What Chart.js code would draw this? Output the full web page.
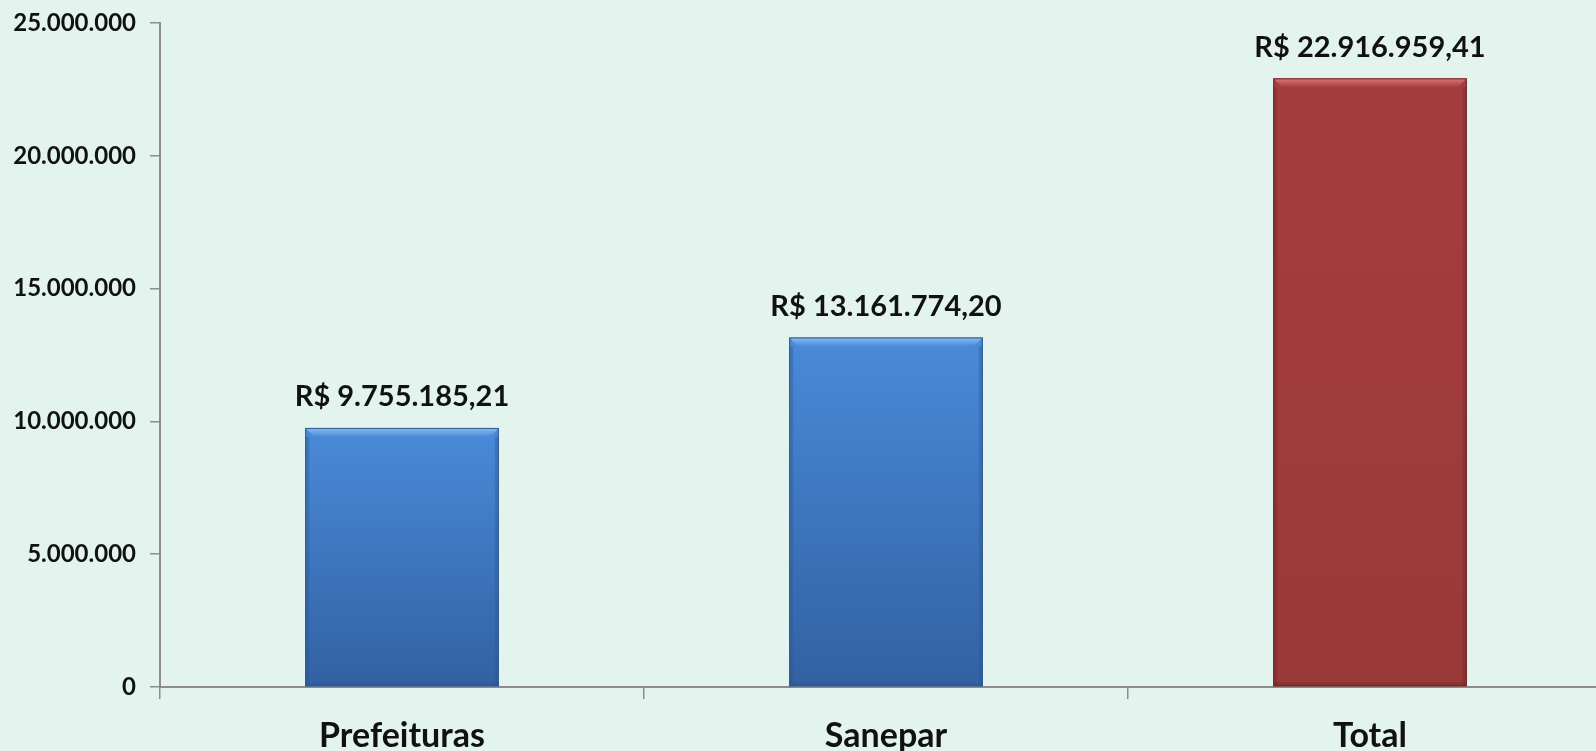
<!DOCTYPE html>
<html>
<head>
<meta charset="utf-8">
<script src="https://cdn.jsdelivr.net/npm/chart.js@4"></script>
<style>
  html, body { margin: 0; padding: 0; overflow: hidden; background: #e3f4ee; }
  #wrap { width: 1620px; height: 751px; }
</style>
</head>
<body>
<div id="wrap"><canvas id="chart" width="1620" height="751"></canvas></div>
<script>
const categories = ["Prefeituras", "Sanepar", "Total"];
const values = [9755185.21, 13161774.2, 22916959.41];
const valueLabels = ["R$ 9.755.185,21", "R$ 13.161.774,20", "R$ 22.916.959,41"];
const yTicks = [0, 5000000, 10000000, 15000000, 20000000, 25000000];

const barStyles = [
  { top: "#4a8ad8", bottom: "#3261a3", light: "#8dbcf0", edge: "#2c5690" },
  { top: "#4a8ad8", bottom: "#3261a3", light: "#8dbcf0", edge: "#2c5690" },
  { top: "#a43e3e", bottom: "#9a3939", light: "#e07575", edge: "#6e2626" },
];

const fontFamily = "Lato, 'Open Sans', sans-serif";

function dotted(v) {
  return String(v).replace(/\B(?=(\d{3})+(?!\d))/g, ".");
}

// vertical gradient for each bar, from its own top down to zero
function barFill(context) {
  const chart = context.chart;
  const s = barStyles[context.dataIndex];
  const y = chart.scales.y;
  if (!chart.chartArea || !y || context.parsed === undefined) return s.top;
  const top = y.getPixelForValue(context.parsed.y);
  const base = y.getPixelForValue(0);
  const g = chart.ctx.createLinearGradient(0, top, 0, base);
  g.addColorStop(0, s.top);
  g.addColorStop(1, s.bottom);
  return g;
}

// bevel edges + value labels on top of the bars
const barDecor = {
  id: "barDecor",
  afterDatasetsDraw(chart) {
    const ctx = chart.ctx;
    const meta = chart.getDatasetMeta(0);
    meta.data.forEach((bar, i) => {
      const s = barStyles[i];
      const left = bar.x - bar.width / 2;
      const right = bar.x + bar.width / 2;
      const top = bar.y;
      const bottom = bar.base;
      const b = 9;
      ctx.save();
      // top bevel
      const g = ctx.createLinearGradient(0, top, 0, top + b);
      g.addColorStop(0, s.light);
      g.addColorStop(1, s.top);
      ctx.fillStyle = g;
      ctx.beginPath();
      ctx.moveTo(left, top);
      ctx.lineTo(right, top);
      ctx.lineTo(right - b, top + b);
      ctx.lineTo(left + b, top + b);
      ctx.closePath();
      ctx.fill();
      // side shading
      ctx.globalAlpha = 0.35;
      ctx.fillStyle = s.edge;
      ctx.fillRect(left, top + b, 4, bottom - top - b);
      ctx.fillRect(right - 4, top + b, 4, bottom - top - b);
      ctx.fillRect(left, bottom - 4, right - left, 4);
      ctx.globalAlpha = 1;
      ctx.strokeStyle = s.edge;
      ctx.lineWidth = 1;
      ctx.strokeRect(left + 0.5, top + 0.5, right - left - 1, bottom - top - 1);
      // value label
      ctx.fillStyle = "#111";
      ctx.font = "bold 29px " + fontFamily;
      ctx.textAlign = "center";
      ctx.textBaseline = "middle";
      ctx.fillText(valueLabels[i], bar.x, top - 31);
      ctx.restore();
    });
  },
};

new Chart(document.getElementById("chart").getContext("2d"), {
  type: "bar",
  data: {
    labels: categories,
    datasets: [{
      data: values,
      backgroundColor: barFill,
      borderWidth: 0,
      barPercentage: 0.4,
      categoryPercentage: 1,
    }],
  },
  options: {
    responsive: false,
    animation: false,
    layout: { padding: { top: 23, right: 8, left: 0, bottom: 0 } },
    plugins: { legend: { display: false }, tooltip: { enabled: false } },
    scales: {
      x: {
        grid: {
          display: true,
          offset: true,
          drawOnChartArea: false,
          drawTicks: true,
          tickLength: 12,
          color: "#8c8c8c",
          lineWidth: 1.5,
        },
        border: { display: true, color: "#8c8c8c", width: 2 },
        ticks: {
          color: "#111",
          padding: 17,
          font: { family: fontFamily, size: 34, weight: "bold" },
        },
        afterFit(scale) { scale.height = 64; },
      },
      y: {
        min: 0,
        max: 25000000,
        afterBuildTicks(scale) { scale.ticks = yTicks.map((v) => ({ value: v })); },
        grid: {
          display: true,
          drawOnChartArea: false,
          drawTicks: true,
          tickLength: 10,
          color: "#8c8c8c",
          lineWidth: 1.5,
        },
        border: { display: true, color: "#8c8c8c", width: 2 },
        ticks: {
          color: "#111",
          padding: 14,
          font: { family: fontFamily, size: 24, weight: "bold" },
          callback: (value) => dotted(value),
        },
        afterFit(scale) {
          scale.width = 160;
          scale.paddingTop = 0;
          scale.paddingBottom = 0;
        },
      },
    },
  },
  plugins: [barDecor],
});
</script>
</body>
</html>
